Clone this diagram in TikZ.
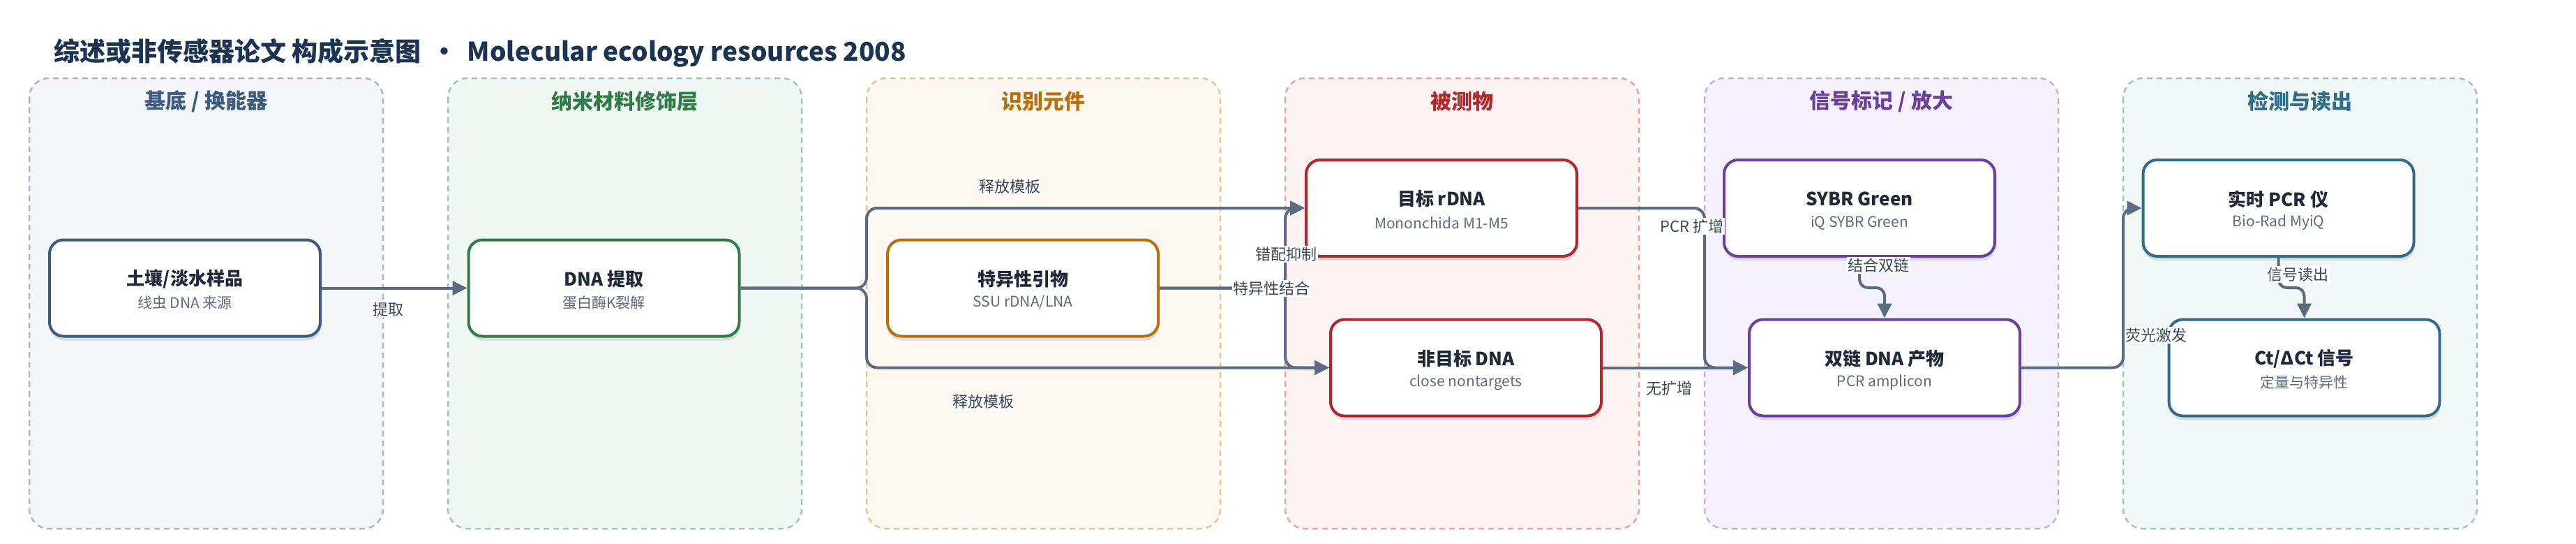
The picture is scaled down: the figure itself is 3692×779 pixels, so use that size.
\documentclass[tikz,border=0pt]{standalone}
\usepackage{fontspec}
\setmainfont{Noto Sans CJK SC}
\usetikzlibrary{arrows.meta,shadows,calc}
\definecolor{titlec}{HTML}{1C3452}
\definecolor{cline}{HTML}{5B6B82}
\definecolor{ltext}{HTML}{3B4656}
\definecolor{btext}{HTML}{1F2937}
\definecolor{stext}{HTML}{5F6B7A}
\definecolor{pfA}{HTML}{F4F6FA}\definecolor{plA}{HTML}{A7B6CA}\definecolor{ptA}{HTML}{3D5A80}
\definecolor{pfB}{HTML}{F1F8F3}\definecolor{plB}{HTML}{9CCAA8}\definecolor{ptB}{HTML}{2E7D46}
\definecolor{pfC}{HTML}{FEF8F0}\definecolor{plC}{HTML}{E8C48F}\definecolor{ptC}{HTML}{B8700B}
\definecolor{pfD}{HTML}{FDF3F3}\definecolor{plD}{HTML}{E8A2A2}\definecolor{ptD}{HTML}{B3262A}
\definecolor{pfE}{HTML}{F6F2FB}\definecolor{plE}{HTML}{C6B0E2}\definecolor{ptE}{HTML}{6B3FA0}
\definecolor{pfF}{HTML}{F2F7F8}\definecolor{plF}{HTML}{A0C2CC}\definecolor{ptF}{HTML}{2F6E86}
\begin{document}
\begin{tikzpicture}[x=1pt,y=-1pt,
  panel/.style={line width=2.5pt, dash pattern=on 8pt off 6pt, rounded corners=28pt},
  ptitle/.style={font=\fontsize{30}{36}\selectfont\bfseries, inner sep=0pt},
  box/.style={draw, rectangle, rounded corners=20pt, line width=4pt, fill=white,
    minimum width=388pt, minimum height=138pt,
    drop shadow={shadow xshift=1pt, shadow yshift=-6pt, opacity=0.16, fill=black!70}},
  ttl/.style={font=\fontsize{26}{30}\selectfont\bfseries, text=btext, inner sep=0pt},
  sub/.style={font=\fontsize{21}{25}\selectfont, text=stext, inner sep=0pt},
  conn/.style={draw=cline, line width=4pt, rounded corners=15pt, -{Triangle[length=21pt,width=20pt]}},
  lbl/.style={fill=white, text=ltext, font=\fontsize{22}{26}\selectfont, inner sep=1.5pt}
]
\useasboundingbox (0,0) rectangle (3692,779);
\fill[white] (0,0) rectangle (3692,779);

% title
\node[anchor=west, text=titlec, font=\fontsize{37}{43}\selectfont\bfseries, inner sep=0pt] (title) at (77,76)
  {综述或非传感器论文 构成示意图 \,•\, Molecular ecology resources 2008};

% panels
\draw[panel, fill=pfA, draw=plA] (42,112) rectangle (549,757);
\draw[panel, fill=pfB, draw=plB] (642,112) rectangle (1149,757);
\draw[panel, fill=pfC, draw=plC] (1242,112) rectangle (1749,757);
\draw[panel, fill=pfD, draw=plD] (1842,112) rectangle (2349,757);
\draw[panel, fill=pfE, draw=plE] (2443,112) rectangle (2950,757);
\draw[panel, fill=pfF, draw=plF] (3043,112) rectangle (3550,757);

\node[ptitle, text=ptA] (pt1) at (295.5,145) {基底 / 换能器};
\node[ptitle, text=ptB] (pt2) at (895.5,145) {纳米材料修饰层};
\node[ptitle, text=ptC] (pt3) at (1495.5,145) {识别元件};
\node[ptitle, text=ptD] (pt4) at (2095.5,145) {被测物};
\node[ptitle, text=ptE] (pt5) at (2696.5,145) {信号标记 / 放大};
\node[ptitle, text=ptF] (pt6) at (3296.5,145) {检测与读出};

% boxes
\node[box, draw=ptA] (b1) at (265,412.5) {};
\node[box, draw=ptB] (b2) at (865.5,412.5) {};
\node[box, draw=ptC] (b3) at (1466,412.5) {};
\node[box, draw=ptD] (b4) at (2066,298) {};
\node[box, draw=ptD] (b5) at (2101,526.5) {};
\node[box, draw=ptE] (b6) at (2665,298) {};
\node[box, draw=ptE] (b7) at (2701,526.5) {};
\node[box, draw=ptF] (b8) at (3265.5,298) {};
\node[box, draw=ptF] (b9) at (3302.5,526.5) {};

\node[ttl] (t1) at ($(b1)+(0,-13)$) {土壤/淡水样品};
\node[sub] (s1) at ($(b1)+(0,21)$) {线虫 DNA 来源};
\node[ttl] (t2) at ($(b2)+(0,-13)$) {DNA 提取};
\node[sub] (s2) at ($(b2)+(0,21)$) {蛋白酶K裂解};
\node[ttl] (t3) at ($(b3)+(0,-13)$) {特异性引物};
\node[sub] (s3) at ($(b3)+(0,21)$) {SSU rDNA/LNA};
\node[ttl] (t4) at ($(b4)+(0,-13)$) {目标 rDNA};
\node[sub] (s4) at ($(b4)+(0,21)$) {Mononchida M1-M5};
\node[ttl] (t5) at ($(b5)+(0,-13)$) {非目标 DNA};
\node[sub] (s5) at ($(b5)+(0,21)$) {close nontargets};
\node[ttl] (t6) at ($(b6)+(0,-13)$) {SYBR Green};
\node[sub] (s6) at ($(b6)+(0,21)$) {iQ SYBR Green};
\node[ttl] (t7) at ($(b7)+(0,-13)$) {双链 DNA 产物};
\node[sub] (s7) at ($(b7)+(0,21)$) {PCR amplicon};
\node[ttl] (t8) at ($(b8)+(0,-13)$) {实时 PCR 仪};
\node[sub] (s8) at ($(b8)+(0,21)$) {Bio-Rad MyiQ};
\node[ttl] (t9) at ($(b9)+(0,-13)$) {Ct/ΔCt 信号};
\node[sub] (s9) at ($(b9)+(0,21)$) {定量与特异性};

% junction coordinates
\coordinate (j2) at (1242,412.5);
\coordinate (j3) at (1842,412.5);
\coordinate (j4) at (2443,298);
\coordinate (j6) at (2665,412);
\coordinate (j7) at (3043,526.5);
\coordinate (j8) at (3265.5,412);

% connectors
\draw[conn] (b1.east) -- (b2.west);
\draw[conn] (b2.east) -- (j2) |- (b4.west);
\draw[conn] (b2.east) -- (j2) |- (b5.west);
\draw[conn] (b3.east) -- (j3) |- (b4.west);
\draw[conn] (b3.east) -- (j3) |- (b5.west);
\draw[conn] (b4.east) -- (j4) |- (b7.west);
\draw[conn] (b5.east) -- (b7.west);
\draw[conn, rounded corners=12pt] (b6.south) -- (j6) -| (b7.north);
\draw[conn] (b7.east) -- (j7) |- (b8.west);
\draw[conn, rounded corners=12pt] (b8.south) -- (j8) -| (b9.north);

% labels
\node[lbl] (l1) at (556,443) {提取};
\node[lbl] (l2) at (1447,267) {释放模板};
\node[lbl] (l3) at (1409,575) {释放模板};
\node[lbl] (l4) at (1822,413) {特异性结合};
\node[lbl] (l5) at (1843,364) {错配抑制};
\node[lbl] (l6) at (2425,324) {PCR 扩增};
\node[lbl] (l7) at (2392,556) {无扩增};
\node[lbl] (l8) at (2692,380) {结合双链};
\node[lbl] (l9) at (3090,480) {荧光激发};
\node[lbl] (l10) at (3293,393) {信号读出};
\end{tikzpicture}
\end{document}
